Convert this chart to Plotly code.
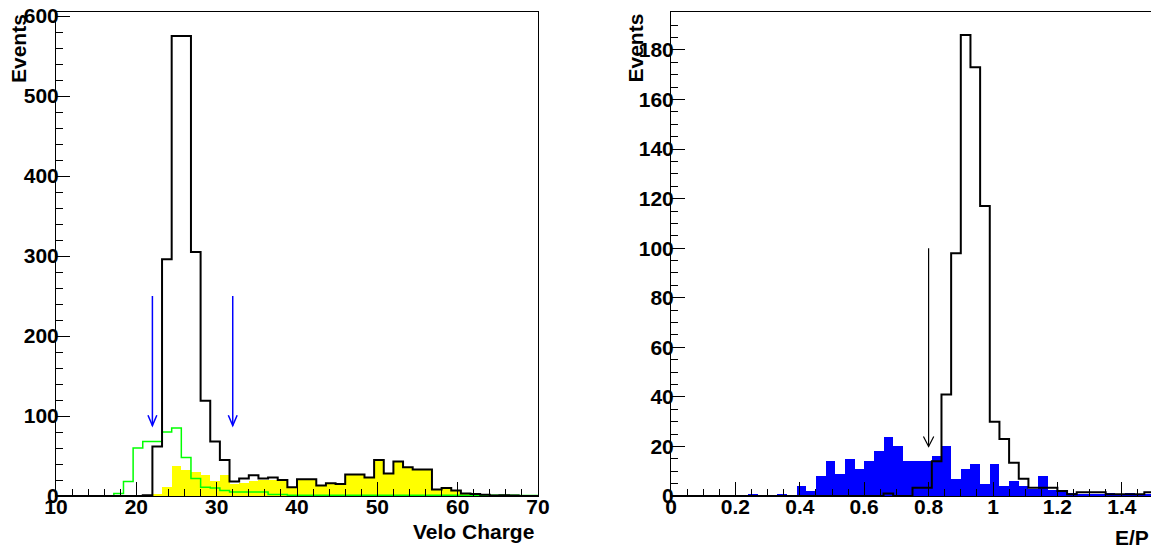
import numpy as np
import plotly.graph_objects as go

# ---------------- Left panel: Velo Charge (50 bins, 10..70) ----------------
velo_lo, velo_hi = 10.0, 70.0
velo_all = [0, 0, 0, 0, 0, 0, 0, 0, 0, 1,
            62, 296, 575, 575, 305, 119, 68, 45, 18, 22,
            26, 22, 23, 20, 11, 21, 21, 13, 16, 15,
            27, 27, 23, 45, 28, 43, 36, 33, 33, 8,
            10, 7, 3, 2.5, 1.5, 0.5, 1, 0.5, 0, 0]
velo_green = [0, 0, 0, 0, 0, 0, 3, 18, 60, 68,
              68, 80, 85, 48, 22, 11, 10, 7, 5, 5,
              5, 5, 2, 2, 1, 1, 1, 1, 1, 1,
              1, 1, 1, 1, 1, 1, 1, 1, 1, 1,
              1, 1, 1, 1, 1, 1, 1, 1, 0.5, 0.5]
velo_yellow = [0, 0, 0, 0, 0, 0, 0, 0, 0, 0,
               2, 11, 37, 33, 30, 26, 19, 26, 15, 16,
               19, 20, 20, 19, 10, 20, 20, 12, 15, 14,
               26, 26, 22, 44, 27, 42, 35, 32, 32, 7,
               9, 6, 2, 1.5, 1, 0.3, 0.5, 0.3, 0, 0]
velo_cuts = [22, 32]
velo_arrow_from, velo_arrow_to = 250, 88
velo_xticks = [10, 20, 30, 40, 50, 60, 70]
velo_yticks = [0, 100, 200, 300, 400, 500, 600]

# ---------------- Right panel: E/P (50 bins, 0..1.5) ----------------
ep_lo, ep_hi = 0.0, 1.5
ep_all = [0, 0, 0, 0, 0, 0, 0, 0, 0, 0,
          0, 0, 0, 0, 0, 0, 0, 0, 0, 0,
          0, 0, 1, 0, 0, 3.3, 3.3, 14, 41, 98,
          186, 173, 117, 30, 23, 13.4, 7, 3.3, 3.3, 3.3,
          2, 0.7, 1.5, 1.5, 1.5, 0.7, 0.7, 0.7, 0.7, 1.5]
ep_blue = [0, 0, 0, 0, 0, 0, 0, 0, 1, 0,
           0, 1, 0, 4, 2, 8, 14, 9, 15, 11,
           14, 18, 24, 20, 14, 14, 14, 16, 20, 7,
           11, 13, 5, 13, 4, 6, 4, 3, 8, 2.5,
           1.5, 1.3, 0.8, 0.7, 0.7, 1.3, 0.7, 1.3, 0.5, 0.5]
ep_cut = 0.8
ep_arrow_from, ep_arrow_to = 100, 20
ep_xticks = [0, 0.2, 0.4, 0.6, 0.8, 1.0, 1.2, 1.4]
ep_xticktext = ["0", "0.2", "0.4", "0.6", "0.8", "1", "1.2", "1.4"]
ep_yticks = [0, 20, 40, 60, 80, 100, 120, 140, 160, 180]

W, H = 1151, 545
FONT = dict(family="Liberation Sans, Arial, sans-serif", size=21, color="black", weight="bold")


def edges_of(lo, hi, vals):
    return np.linspace(lo, hi, len(vals) + 1)


def step_xy(lo, hi, vals):
    e = edges_of(lo, hi, vals)
    v = list(vals)
    x = [e[0]] + list(e[:-1]) + [e[-1], e[-1]]
    y = [0] + v + [v[-1], 0]
    return x, y


def bar_trace(lo, hi, vals, color, xa, ya):
    e = edges_of(lo, hi, vals)
    c = (e[:-1] + e[1:]) / 2
    return go.Bar(x=c, y=vals, width=e[1] - e[0], marker=dict(color=color, line=dict(width=0)),
                  xaxis=xa, yaxis=ya, showlegend=False, hoverinfo="skip")


def step_trace(lo, hi, vals, color, width, xa, ya):
    x, y = step_xy(lo, hi, vals)
    return go.Scatter(x=x, y=y, mode="lines", line=dict(color=color, width=width, shape="hv"),
                      xaxis=xa, yaxis=ya, showlegend=False, hoverinfo="skip")


fig = go.Figure()
fig.add_trace(bar_trace(velo_lo, velo_hi, velo_yellow, "#ffff00", "x", "y"))
fig.add_trace(step_trace(velo_lo, velo_hi, velo_green, "#00ff00", 1.5, "x", "y"))
fig.add_trace(step_trace(velo_lo, velo_hi, velo_all, "black", 2, "x", "y"))

fig.add_trace(bar_trace(ep_lo, ep_hi, ep_blue, "#0000ff", "x2", "y2"))
fig.add_trace(step_trace(ep_lo, ep_hi, ep_all, "black", 2, "x2", "y2"))

shapes = []
for cx in velo_cuts:
    shapes.append(dict(type="line", xref="x", yref="y", x0=cx, x1=cx,
                       y0=velo_arrow_from, y1=velo_arrow_to, line=dict(color="#0000ff", width=1.5)))
    shapes.append(dict(type="path", xref="x", yref="y",
                       path=f"M {cx-0.55},{velo_arrow_to+13} L {cx},{velo_arrow_to} L {cx+0.55},{velo_arrow_to+13}",
                       line=dict(color="#0000ff", width=1.5)))
shapes.append(dict(type="line", xref="x2", yref="y2", x0=ep_cut, x1=ep_cut,
                   y0=ep_arrow_from, y1=ep_arrow_to, line=dict(color="black", width=1.2)))
shapes.append(dict(type="path", xref="x2", yref="y2",
                   path=f"M {ep_cut-0.016},{ep_arrow_to+4} L {ep_cut},{ep_arrow_to} L {ep_cut+0.016},{ep_arrow_to+4}",
                   line=dict(color="black", width=1.2)))

L1, R1 = 56, 538
L2 = 671
px_per_ep = 322.0
top, bot = 12, 496


def axis_common():
    return dict(showline=True, linecolor="black", linewidth=1, ticks="inside", ticklen=14,
                tickwidth=1, tickcolor="black", showgrid=False, zeroline=False,
                tickfont=FONT, fixedrange=True, automargin=False)


xa = axis_common()
xa.update(domain=[L1 / W, R1 / W], range=[velo_lo, velo_hi], anchor="y", mirror=True,
          tickvals=velo_xticks, ticktext=[str(t) for t in velo_xticks], ticklabelstandoff=-8,
          minor=dict(ticks="inside", ticklen=7, dtick=2, tick0=10, tickcolor="black", tickwidth=1))
ya = axis_common()
ya.update(domain=[0, 1], range=[0, (bot - top) / 0.8], anchor="x", mirror=True,
          tickvals=velo_yticks, ticktext=[str(t) for t in velo_yticks], ticklabelstandoff=-8,
          minor=dict(ticks="inside", ticklen=7, dtick=20, tick0=0, tickcolor="black", tickwidth=1))
xa2 = axis_common()
xa2.update(domain=[L2 / W, 1], range=[ep_lo, (W - L2) / px_per_ep], anchor="y2", mirror=True,
           tickvals=ep_xticks, ticktext=ep_xticktext, ticklabelstandoff=-8,
           minor=dict(ticks="inside", ticklen=7, dtick=0.05, tick0=0, tickcolor="black", tickwidth=1))
ya2 = axis_common()
ya2.update(domain=[0, 1], range=[0, (bot - top) / 2.478], anchor="x2", mirror=False,
           tickvals=ep_yticks, ticktext=[str(t) for t in ep_yticks], ticklabelstandoff=-8,
           minor=dict(ticks="inside", ticklen=7, dtick=5, tick0=0, tickcolor="black", tickwidth=1))

annotations = [
    dict(text="Events", xref="paper", yref="paper", x=18.5 / W, y=1.0, xanchor="center", yanchor="top",
         textangle=-90, showarrow=False, font=FONT),
    dict(text="Events", xref="paper", yref="paper", x=635 / W, y=1.0, xanchor="center", yanchor="top",
         textangle=-90, showarrow=False, font=FONT),
    dict(text="Velo Charge", xref="paper", yref="paper", x=536 / W, y=-(531 - bot) / (bot - top),
         xanchor="right", yanchor="middle", showarrow=False, font=FONT),
    dict(text="E/P", xref="paper", yref="paper", x=1151 / W, y=-(537 - bot) / (bot - top),
         xanchor="right", yanchor="middle", showarrow=False, font=FONT),
]

fig.update_layout(
    width=W, height=H, margin=dict(l=0, r=0, t=top, b=H - bot, pad=0),
    paper_bgcolor="white", plot_bgcolor="white",
    barmode="overlay", bargap=0,
    xaxis=xa, yaxis=ya, xaxis2=xa2, yaxis2=ya2,
    shapes=shapes, annotations=annotations, showlegend=False,
)

fig.write_html("out.html")
